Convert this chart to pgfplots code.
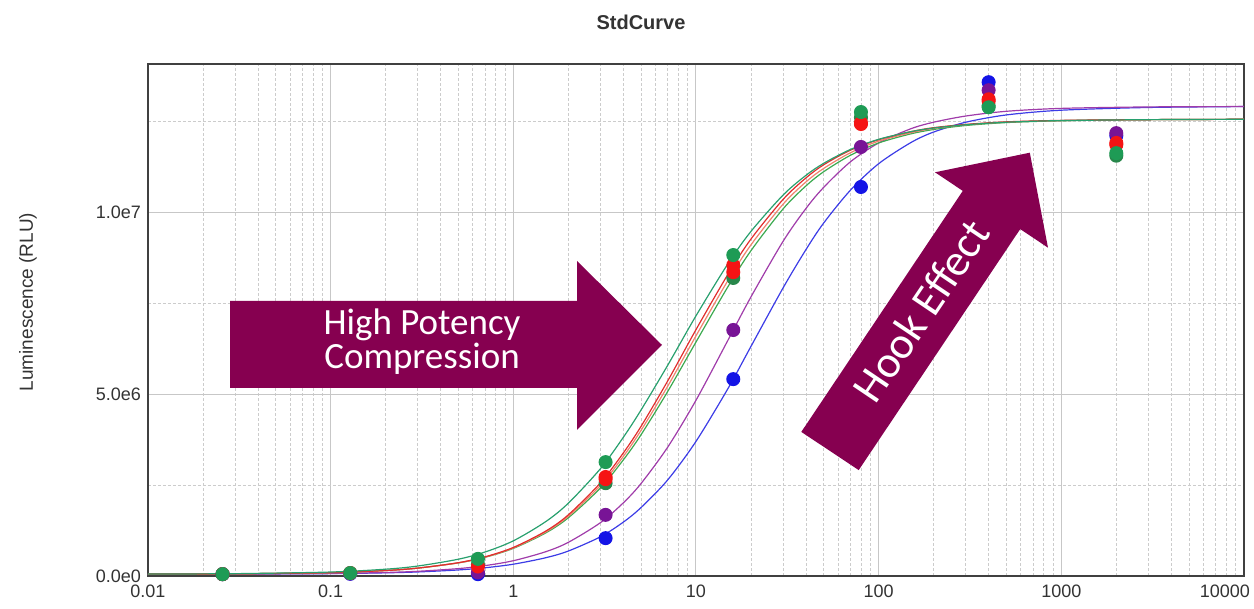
\documentclass[border=0pt]{standalone}
\usepackage{fontspec}
\setmainfont{Liberation Sans}
\newfontfamily\calibri{Carlito}
\usepackage{pgfplots}
\pgfplotsset{compat=1.18}

\definecolor{arrowfill}{RGB}{134,0,80}
\definecolor{cBlue}{RGB}{60,60,230}
\definecolor{cPurple}{RGB}{160,60,170}
\definecolor{cRed}{RGB}{225,45,45}
\definecolor{cSalmon}{RGB}{240,130,110}
\definecolor{cTeal}{RGB}{40,160,110}
\definecolor{cGreen}{RGB}{60,170,80}
\definecolor{dBlue}{RGB}{20,20,230}
\definecolor{dPurple}{RGB}{120,20,150}
\definecolor{dRed}{RGB}{245,20,20}
\definecolor{dGreen}{RGB}{30,155,85}
\definecolor{dGreenB}{RGB}{40,135,75}

\begin{document}
\begin{tikzpicture}
\path[use as bounding box] (-74pt,-16.5pt) rectangle (553pt,288pt);
\begin{axis}[
  scale only axis, width=548pt, height=256pt,
  xmode=log, xmin=0.01, xmax=10000, ymin=0, ymax=14.07,
  xtick={0.01,0.1,1,10,100,1000,10000},
  xticklabels={0.01,0.1,1,10,100,1000,\makebox[0pt][r]{10000\hspace{-3pt}}},
  minor xtick={0.02,0.03,0.04,0.05,0.06,0.07,0.08,0.09,
               0.2,0.3,0.4,0.5,0.6,0.7,0.8,0.9,
               2,3,4,5,6,7,8,9,20,30,40,50,60,70,80,90,
               200,300,400,500,600,700,800,900,
               2000,3000,4000,5000,6000,7000,8000,9000},
  ytick={0,5,10}, yticklabels={0.0e0,5.0e6,1.0e7},
  minor ytick={2.5,7.5,12.5},
  grid=both,
  major grid style={black!22, line width=0.5pt},
  minor grid style={black!20, line width=0.4pt, dash pattern=on 1.5pt off 1pt},
  major tick length=0pt, minor tick length=0pt,
  axis line style={black!75, line width=1pt},
  tick label style={font=\fontsize{9}{10}\selectfont, text=black!80},
  xticklabel style={yshift=-1pt},
  clip=false,
  every axis plot/.append style={line width=0.6pt},
]
% fitted dose-response curves
\addplot[cBlue, smooth] coordinates {(0.01,0.05)(0.03,0.053)(0.1,0.065)(0.2,0.087)(0.3,0.111)(0.5,0.166)(0.7,0.226)(1,0.324)(1.5,0.5)(2,0.686)(3,1.078)(4,1.48)(5,1.88)(7,2.64)(10,3.7)(15,5.16)(20,6.31)(30,7.92)(40,8.97)(50,9.7)(70,10.6)(100,11.33)(150,11.91)(200,12.2)(300,12.47)(500,12.67)(1000,12.8)(3000,12.875)(10000,12.9)};
\addplot[cPurple, smooth] coordinates {(0.01,0.05)(0.03,0.054)(0.1,0.069)(0.2,0.097)(0.3,0.129)(0.5,0.203)(0.7,0.285)(1,0.42)(1.5,0.665)(2,0.925)(3,1.466)(4,2.01)(5,2.54)(7,3.54)(10,4.83)(15,6.49)(20,7.67)(30,9.2)(40,10.1)(50,10.68)(70,11.38)(100,11.9)(150,12.29)(200,12.47)(300,12.64)(500,12.77)(1000,12.85)(3000,12.89)(10000,12.9)};
\addplot[cGreen, smooth] coordinates {(0.01,0.052)(0.03,0.06)(0.1,0.093)(0.2,0.151)(0.3,0.217)(0.5,0.36)(0.7,0.514)(1,0.759)(1.5,1.18)(2,1.6)(3,2.42)(4,3.19)(5,3.88)(7,5.07)(10,6.43)(15,7.96)(20,8.94)(30,10.09)(40,10.72)(50,11.11)(70,11.56)(100,11.9)(150,12.15)(200,12.27)(300,12.38)(500,12.46)(1000,12.51)(3000,12.54)(10000,12.55)};
\addplot[cSalmon, smooth] coordinates {(0.01,0.052)(0.03,0.06)(0.1,0.092)(0.2,0.15)(0.3,0.217)(0.5,0.362)(0.7,0.52)(1,0.771)(1.5,1.205)(2,1.64)(3,2.49)(4,3.285)(5,4.0)(7,5.215)(10,6.6)(15,8.13)(20,9.1)(30,10.22)(40,10.83)(50,11.2)(70,11.63)(100,11.95)(150,12.18)(200,12.3)(300,12.4)(500,12.47)(1000,12.515)(3000,12.54)(10000,12.55)};
\addplot[cRed, smooth] coordinates {(0.01,0.052)(0.03,0.059)(0.1,0.092)(0.2,0.15)(0.3,0.217)(0.5,0.365)(0.7,0.526)(1,0.784)(1.5,1.23)(2,1.68)(3,2.56)(4,3.38)(5,4.11)(7,5.36)(10,6.77)(15,8.3)(20,9.26)(30,10.35)(40,10.94)(50,11.3)(70,11.7)(100,11.99)(150,12.21)(200,12.32)(300,12.41)(500,12.48)(1000,12.52)(3000,12.54)(10000,12.55)};
\addplot[cTeal, smooth] coordinates {(0.01,0.054)(0.03,0.064)(0.1,0.109)(0.2,0.187)(0.3,0.274)(0.5,0.461)(0.7,0.659)(1,0.966)(1.5,1.49)(2,2.0)(3,2.95)(4,3.81)(5,4.56)(7,5.79)(10,7.15)(15,8.59)(20,9.47)(30,10.47)(40,11.01)(50,11.34)(70,11.72)(100,12.0)(150,12.21)(200,12.31)(300,12.4)(500,12.47)(1000,12.515)(3000,12.54)(10000,12.55)};
% measured standards
\addplot[dBlue, only marks, mark=*, mark size=3.2pt] coordinates {(0.0256,0.05)(0.128,0.06)(0.64,0.05)(3.2,1.04)(16,5.41)(80,10.69)(400,13.57)(2000,12.1)};
\addplot[dPurple, only marks, mark=*, mark size=3.2pt] coordinates {(0.0256,0.05)(0.128,0.07)(0.64,0.1)(3.2,1.68)(16,6.76)(80,11.79)(400,13.35)(2000,12.17)};
\addplot[dGreenB, only marks, mark=*, mark size=3.2pt] coordinates {(0.0256,0.05)(0.128,0.08)(0.64,0.32)(3.2,2.55)(16,8.19)(80,12.6)(400,12.92)(2000,11.55)};
\addplot[dRed, only marks, mark=*, mark size=3.2pt] coordinates {(3.2,2.66)(16,8.35)(80,12.42)(400,13.05)(2000,11.85)};
\addplot[dRed, only marks, mark=*, mark size=3.2pt] coordinates {(0.0256,0.05)(0.128,0.08)(0.64,0.26)(3.2,2.72)(16,8.54)(80,12.45)(400,13.1)(2000,11.9)};
\addplot[dGreen, only marks, mark=*, mark size=3.2pt] coordinates {(0.0256,0.05)(0.128,0.08)(0.64,0.47)(3.2,3.13)(16,8.82)(80,12.75)(400,12.88)(2000,11.62)};
\end{axis}

% title and axis label
\node[font=\fontsize{10}{12}\selectfont\bfseries, text=black!80] at (246.5pt,277pt) {StdCurve};
\node[font=\fontsize{9.5}{11}\selectfont, text=black!80, rotate=90] at (-60pt,137pt) {Luminescence (RLU)};

% annotation arrows
\fill[arrowfill] (41pt,137.5pt) -- (214.5pt,137.5pt) -- (214.5pt,157.5pt) -- (257pt,115.5pt)
  -- (214.5pt,73pt) -- (214.5pt,94pt) -- (41pt,94pt) -- cycle;
\node[text=white, align=center, font=\calibri\fontsize{18.5}{15.5}\selectfont] at (137pt,117pt) {High Potency\\Compression};

\fill[arrowfill] (326.65pt,72.05pt) -- (407.4pt,192.55pt) -- (393.5pt,201.85pt) -- (440.9pt,211.65pt)
  -- (450pt,164.15pt) -- (436.1pt,173.45pt) -- (355.35pt,52.95pt) -- cycle;
\node[text=white, rotate=56, font=\calibri\fontsize{22.5}{24}\selectfont] at (386.5pt,132.5pt) {Hook Effect};
\end{tikzpicture}
\end{document}
